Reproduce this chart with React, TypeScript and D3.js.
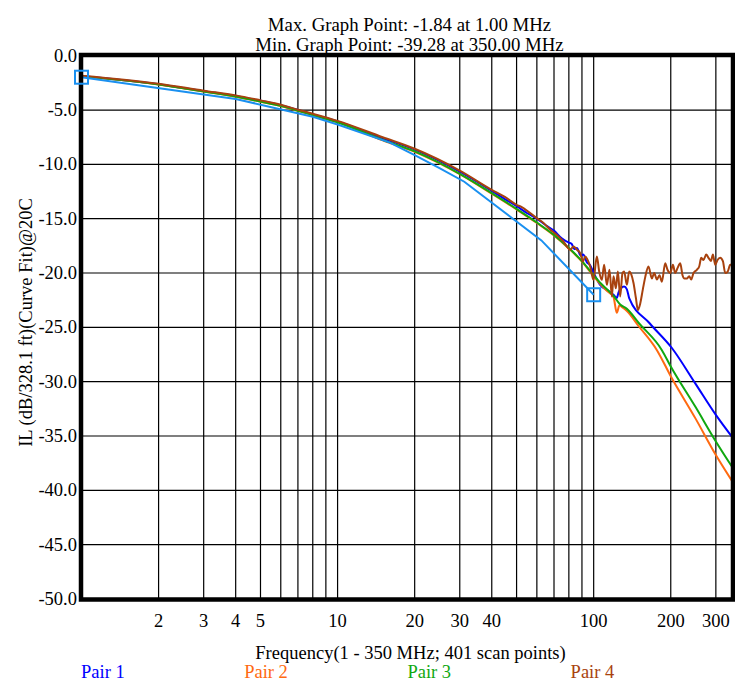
import React from "react";
import * as d3 from "d3";

const W = 735;
const H = 681;

const titleLines = [
  "Max. Graph Point: -1.84 at 1.00 MHz",
  "Min. Graph Point: -39.28 at 350.00 MHz",
];
const xTitle = "Frequency(1 - 350 MHz; 401 scan points)";
const yTitle = "IL (dB/328.1 ft)(Curve Fit)@20C";

const yTicks = [0, -5, -10, -15, -20, -25, -30, -35, -40, -45, -50];
const xGrid = [2, 3, 4, 5, 6, 7, 8, 9, 10, 20, 30, 40, 50, 60, 70, 80, 90, 100, 200, 300];
const xLabels = [2, 3, 4, 5, 10, 20, 30, 40, 100, 200, 300];

// Pair 1 (blue)
const pair1F = [1, 2, 3, 4, 5, 6, 7, 8, 10, 15, 20, 30, 40, 45, 50, 55, 60, 65, 70, 75, 80, 82, 84, 86, 89, 91, 94, 97, 100, 103, 106, 112.6, 119.5, 123.1, 125, 127.9, 131.5, 134.8, 137.6, 165, 202, 250, 300, 350];
const pair1V = [-1.86, -2.62, -3.26, -3.7, -4.15, -4.56, -5.0, -5.4, -6.05, -7.6, -8.65, -10.68, -12.45, -13.2, -13.85, -14.5, -15.0, -15.6, -16.1, -16.8, -17.2, -17.3, -17.8, -17.7, -18.4, -18.3, -19.0, -19.3, -20.0, -20.6, -21.1, -21.55, -22.0, -22.3, -21.8, -21.4, -21.24, -21.5, -22.3, -24.6, -26.9, -30.2, -33.06, -35.2];

// Pair 2 (orange)
const pair2F = [1, 2, 3, 4, 5, 6, 7, 8, 10, 15, 20, 30, 40, 50, 60, 70, 80, 90, 100, 106, 112, 119.5, 123.1, 126, 130, 134.8, 150, 176.6, 200, 250, 300, 350];
const pair2V = [-1.88, -2.66, -3.3, -3.77, -4.23, -4.63, -5.07, -5.48, -6.14, -7.78, -8.84, -10.9, -12.7, -14.15, -15.4, -16.55, -17.75, -18.95, -20.3, -21.0, -21.6, -22.2, -23.66, -23.0, -23.2, -23.5, -24.9, -27.1, -29.5, -33.4, -36.75, -39.28];

// Pair 3 (green)
const pair3F = [1, 2, 3, 4, 5, 6, 7, 8, 10, 15, 20, 30, 40, 50, 60, 70, 80, 90, 100, 106, 112.6, 119.5, 126.9, 134.8, 150, 184.7, 200, 250, 300, 350];
const pair3V = [-1.88, -2.66, -3.3, -3.76, -4.22, -4.62, -5.06, -5.46, -6.12, -7.75, -8.81, -10.87, -12.65, -14.1, -15.35, -16.5, -17.7, -18.9, -20.2, -20.9, -21.5, -22.1, -22.9, -23.3, -24.6, -27.1, -28.6, -32.34, -35.5, -37.97];

// Pair 4 (brown)
const pair4F = [1, 2, 3, 4, 5, 6, 7, 8, 10, 15, 20, 30, 40, 45, 50, 52, 56.5, 60, 63.7, 67.6, 71.8, 76.2, 81, 83.4, 86, 88.6, 90.8, 92.7, 94.6, 96.9, 99.8, 102.9, 105.1, 107.6, 109.9, 112.6, 115.3, 117.8, 119.5, 122.1, 124.3, 126.9, 129.6, 131.5, 134.8, 137.6, 140.1, 143, 146.2, 148.8, 152, 155.6, 158.9, 163.7, 168.8, 172.3, 176.6, 180.7, 184.7, 190.2, 194.2, 199, 203.9, 208.2, 212.5, 217.8, 222.3, 226.3, 231.2, 236, 240.4, 245.4, 252.9, 258.3, 263, 268.5, 275.1, 280.8, 287, 292.2, 298.3, 304.5, 311.9, 319.6, 326.3, 333.2, 341.4, 350];
const pair4V = [-1.84, -2.58, -3.22, -3.65, -4.11, -4.51, -4.97, -5.34, -6.0, -7.5, -8.56, -10.57, -12.34, -13.0, -13.72, -13.9, -14.49, -14.95, -15.4, -16.0, -16.5, -17.1, -17.86, -17.56, -17.86, -18.17, -18.94, -18.48, -18.78, -19.4, -20.63, -18.48, -19.86, -20.63, -19.24, -21.09, -19.7, -22.16, -20.3, -21.4, -19.86, -22.16, -20.0, -19.86, -21.09, -19.86, -20.1, -20.9, -22.3, -23.4, -22.8, -21.5, -20.4, -19.4, -20.5, -20.0, -20.6, -20.2, -20.8, -19.1, -19.7, -20.0, -19.25, -20.0, -19.55, -19.1, -20.2, -20.5, -20.5, -20.3, -20.6, -20.0, -19.7, -19.4, -18.6, -18.8, -18.3, -18.6, -18.9, -18.3, -19.25, -18.8, -18.6, -18.9, -20.0, -19.9, -19.25, -19.25];

// Limit line (light blue) with markers
const limitF = [1, 4, 8, 10, 16, 20, 25, 31.25, 62.5, 100];
const limitV = [-1.98, -3.98, -5.62, -6.33, -8.0, -9.15, -10.35, -11.6, -17.0, -22.0];
const markerF = [1, 100];
const markerV = [-1.98, -22.0];

const legendNames = ["Pair 1", "Pair 2", "Pair 3", "Pair 4"];
const colors = ["#0000ff", "#ff6a10", "#10a810", "#a8420e"];
const limitColor = "#1a90f0";

export default function App() {
  const x = d3.scaleLog().domain([1, 350]).range([81.5, 733]);
  const y = d3.scaleLinear().domain([-50, 0]).range([599, 55.7]);
  const line = d3
    .line<[number, number]>()
    .x((d) => x(d[0]))
    .y((d) => y(d[1]))
    .curve(d3.curveMonotoneX);
  const lin = d3
    .line<[number, number]>()
    .x((d) => x(d[0]))
    .y((d) => y(d[1]));

  const zip = (f: number[], v: number[]) => f.map((fi, i) => [fi, v[i]] as [number, number]);
  const series = [
    { d: zip(pair1F, pair1V), c: colors[0] },
    { d: zip(pair2F, pair2V), c: colors[1] },
    { d: zip(pair3F, pair3V), c: colors[2] },
    { d: zip(pair4F, pair4V), c: colors[3] },
  ];
  const font = "'Liberation Serif', 'Times New Roman', serif";
  const fs = 18.5;
  const top = 55;
  const bottom = 599.5;
  const left = 81;
  const right = 733;

  return (
    <svg
      width={W}
      height={H}
      style={{ position: "absolute", left: 0, top: 0, background: "#fff" }}
      fontFamily={font}
      fontSize={fs}
    >
      <rect x={0} y={0} width={W} height={H} fill="#fff" />
      {titleLines.map((t, i) => (
        <text key={t} x={409.5} y={31 + i * 20} textAnchor="middle" fill="#000" fontSize={18.8}>
          {t}
        </text>
      ))}
      {/* grid */}
      {yTicks.slice(1, -1).map((v) => (
        <line key={"h" + v} x1={left} x2={right} y1={y(v)} y2={y(v)} stroke="#000" strokeWidth={1.2} />
      ))}
      {xGrid.map((f) => (
        <line key={"v" + f} x1={x(f)} x2={x(f)} y1={top} y2={bottom} stroke="#000" strokeWidth={1.2} />
      ))}
      {/* series */}
      {series.map((s, i) => (
        <path key={i} d={line(s.d) || ""} fill="none" stroke={s.c} strokeWidth={2} strokeLinejoin="round" />
      ))}
      <path d={lin(zip(limitF, limitV)) || ""} fill="none" stroke={limitColor} strokeWidth={2} />
      {/* frame */}
      <rect x={left} y={top} width={right - left} height={bottom - top} fill="none" stroke="#000" strokeWidth={4.5} />
      {markerF.map((f, i) => (
        <rect
          key={"m" + f}
          x={x(f) - 6.5}
          y={y(markerV[i]) - 6.5}
          width={13}
          height={13}
          fill="none"
          stroke={limitColor}
          strokeWidth={2}
        />
      ))}
      {/* y ticks */}
      {yTicks.map((v) => (
        <text key={"yt" + v} x={77} y={y(v) + 6} textAnchor="end" fill="#000">
          {v.toFixed(1)}
        </text>
      ))}
      {/* x ticks */}
      {xLabels.map((f) => (
        <text key={"xt" + f} x={x(f)} y={627} textAnchor="middle" fill="#000">
          {f}
        </text>
      ))}
      <text x={410.5} y={659} textAnchor="middle" fill="#000">
        {xTitle}
      </text>
      <text transform={`translate(32, 322.5) rotate(-90)`} textAnchor="middle" fill="#000">
        {yTitle}
      </text>
      {legendNames.map((n, i) => (
        <text key={n} x={81 + i * 163.2} y={677.5} fill={colors[i]}>
          {n}
        </text>
      ))}
    </svg>
  );
}
